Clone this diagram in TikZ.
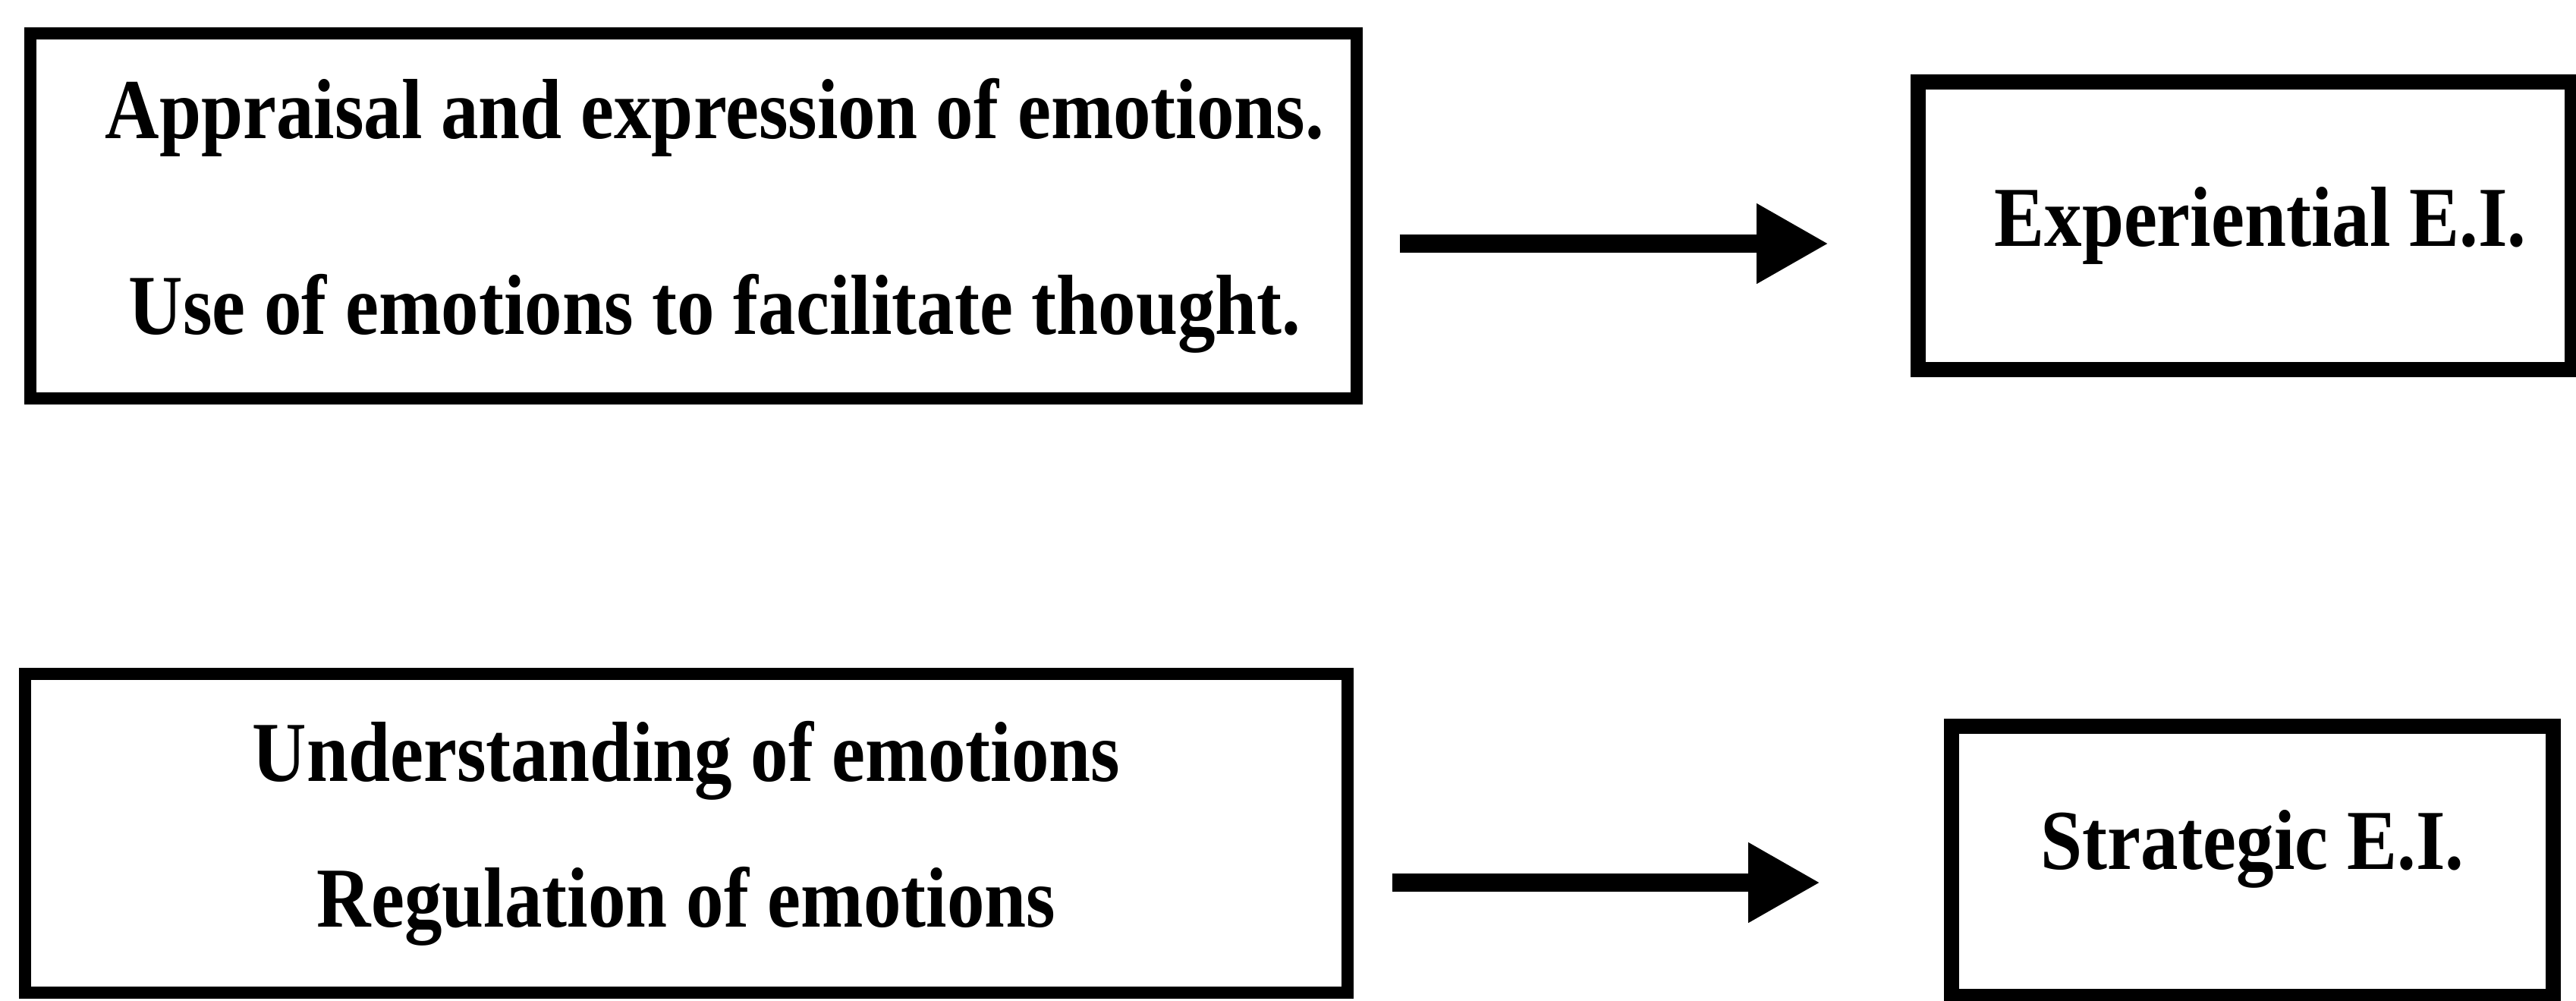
\documentclass[tikz,border=0pt]{standalone}
\usepackage{fontspec}
\setmainfont{Liberation Serif}
\usepackage{tikz}
\usetikzlibrary{arrows.meta}
\newcommand{\narrow}[1]{\scalebox{0.88}[1]{#1}}

\begin{document}
\begin{tikzpicture}[
      box/.style={draw, line width=4.3pt, inner sep=0pt, align=center,
      font=\bfseries\fontsize{32}{38}\selectfont},
      result/.style={box, line width=5.7pt},
      link/.style={->, line width=6.8pt},
      >={Triangle[length=9.5mm,width=9.9mm]}]
    \useasboundingbox (0,0) rectangle (33.95,-13.18);
    \node[box, minimum width=17.48cm, minimum height=4.81cm] (app) at (9.14,-2.845)
      {\hspace*{0.56cm}\narrow{Appraisal and expression of emotions.}\\[35.4pt]\hspace*{0.56cm}\narrow{Use of emotions to facilitate thought.}};
    \node[result, minimum width=8.62cm, minimum height=3.79cm] (exp) at (29.59,-2.975)
      {\hspace*{0.4cm}\narrow{Experiential E.I.}};
    \node[box, minimum width=17.43cm, minimum height=4.20cm] (und) at (9.045,-10.98)
      {\narrow{Understanding of emotions}\\[16.6pt]\narrow{Regulation of emotions}};
    \node[result, minimum width=7.93cm, minimum height=3.56cm, text depth=0.57cm] (str) at (29.685,-11.35)
      {\narrow{Strategic E.I.}};
    \coordinate (a1) at ([yshift=-0.365cm]app.east);
    \coordinate (a2) at ([yshift=-0.65cm]und.east);
    \draw[link, shorten <=0.49cm, shorten >=1.08cm] (a1) -- (a1 -| exp.west);
    \draw[link, shorten <=0.51cm, shorten >=1.63cm] (a2) -- (a2 -| str.west);
  \end{tikzpicture}
\end{document}
